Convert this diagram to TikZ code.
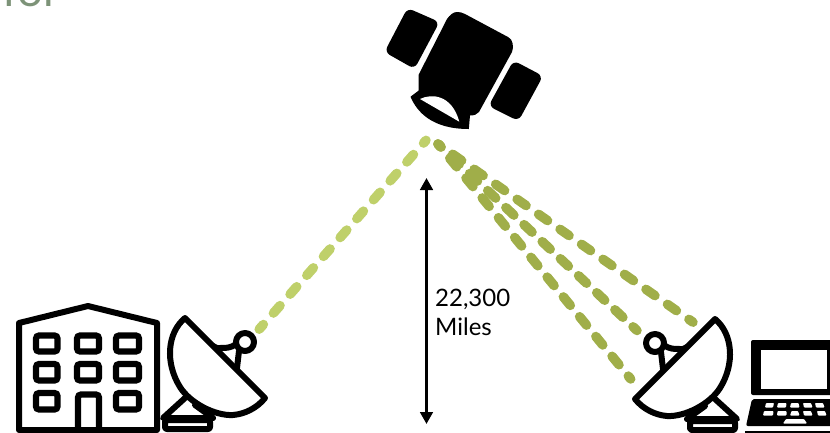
\documentclass[tikz,border=0pt]{standalone}
\usepackage{fontspec}
\setmainfont{Lato}
\usepackage{xcolor}
\usetikzlibrary{arrows.meta,positioning}
\definecolor{LinkLight}{HTML}{BFD06A}
\definecolor{LinkDark}{HTML}{A0AE49}
\definecolor{TitleGreen}{HTML}{7D9378}

\tikzset{
  dishicon/.pic={
    % ---- stand ----
    \draw[icon] (-40,40) -- (-62,60) -- (-12,60) -- (-30,47);
    \draw[icon, rounded corners=2pt] (-60,62) rectangle (-15,71);
    % ---- feed ----
    \draw[icon] (11,-14) .. controls (6,-10) and (2,-10) .. (-8,-10) -- (-12,-12);
    \draw[icon] (14,-7) -- (12,10);
    \draw[icon, fill=white] (20,-16) circle (9pt);
    % ---- bowl ----
    \draw[icon, fill=white] (-40,-40) .. controls (-58,-25) and (-60,5) .. (-45,29)
      .. controls (-35,45) and (-10,58) .. (8,57)
      .. controls (20,56) and (32,50) .. (40,40) -- cycle;
  }
}

\begin{document}
\begin{tikzpicture}[
    x=1pt, y=-1pt,
    icon/.style={line width=6pt, line join=round, line cap=round},
    winbox/.style={line width=6.2pt, rounded corners=3pt},
    keycap/.style={fill=white, draw=none, rounded corners=0.8pt},
    panel/.style={fill=black, rounded corners=6pt},
    linkbase/.style={line width=9.5pt, line cap=round},
    linklight/.style={linkbase, LinkLight, dash pattern=on 10pt off 15.2pt, dash phase=3.7pt},
    linkdark/.style={linkbase, LinkDark},
    height/.style={{Triangle[length=12pt,width=12.5pt]}-{Triangle[length=12pt,width=12.5pt]}, line width=3.5pt},
  ]
    \path[use as bounding box, clip] (0,0) rectangle (830,432);

    % ---- clipped heading ----
    \node[anchor=base west, inner sep=0pt, text=TitleGreen, font=\fontsize{46}{50}\selectfont] (heading) at (2,6) {for};

    % ---- anchor points ----
    \coordinate (satleft) at (426,140.3);
    \coordinate (satright) at (438,144);
    \coordinate (feedleft) at (259.2,329.2);
    \coordinate (feedtop) at (693,322.2);
    \coordinate (feedmid) at (637,330.5);
    \coordinate (feedlow) at (630.7,379);
    \coordinate (heighttop) at (426.5,178);
    \coordinate (heightbot) at (426.5,424);

    % ---- links ----
    \draw[linklight] (feedleft) -- (satleft);
    \draw[linkdark, dash pattern=on 11pt off 15.2pt, dash phase=8.3pt] (satright) -- (feedtop);
    \draw[linkdark, dash pattern=on 11pt off 13.9pt, dash phase=6.6pt] (satright) -- (feedmid);
    \draw[linkdark, dash pattern=on 11pt off 14.6pt, dash phase=7.1pt] (satright) -- (feedlow);

    % ---- satellite ----
    \fill[panel] (407.5,8) -- (439.5,22) -- (414.5,69) -- (384.5,52) -- cycle;
    \fill[panel] (513.5,60.5) -- (543,76) -- (518.5,121) -- (488.5,106) -- cycle;
    \fill[black] (457,12) .. controls (453,12) and (450,15) .. (447,19) -- (418.5,75) -- (418.5,90.7)
      -- (410.5,96.7) .. controls (417,112) and (432,129) .. (468.8,129)
      -- (470,115.5) .. controls (474,115.5) and (477,114.5) .. (479,112) -- (512,52)
      .. controls (514,47) and (513,39) .. (508,37) -- (465,14) .. controls (462,12.5) and (460,12) .. (457,12) -- cycle;
    \fill[white] (420,99) .. controls (432,93) and (452,95) .. (459.3,121.7) -- cycle;

    % ---- building ----
    \draw[icon] (19,323) -- (88,306) -- (157,323) -- (157,430) -- (19,430) -- cycle;
    \draw[winbox] (36,335.5) rectangle (57.5,351.5);
    \draw[winbox] (77,335.5) rectangle (99,351.5);
    \draw[winbox] (116,335.5) rectangle (139,351.5);
    \draw[winbox] (36,364) rectangle (57.5,380.5);
    \draw[winbox] (77,364) rectangle (99,380.5);
    \draw[winbox] (116,364) rectangle (139,380.5);
    \draw[winbox] (36,393) rectangle (57.5,409.5);
    \draw[winbox] (116,393) rectangle (139,409.5);
    \draw[winbox] (78,440) -- (78,394.5) -- (99,394.5) -- (99,440);

    % ---- dishes ----
    \pic (dishleft) at (225,358) {dishicon};
    \pic[xscale=-1] (dishright) at (675,359) {dishicon};

    % ---- laptop ----
    \fill[black, rounded corners=2pt] (751,340) rectangle (845,395);
    \fill[white] (760.7,350) rectangle (826.7,389.3);
    \fill[black, rounded corners=2pt] (752,399) -- (845,399) -- (845,426) -- (746,426) -- cycle;
    \fill[black] (745,430.6) rectangle (830,433);
    \fill[keycap] (766,403) -- (774,403) -- (773,407.5) -- (765,407.5) -- cycle;
    \fill[keycap] (778,403) -- (786.5,403) -- (786,407.5) -- (777,407.5) -- cycle;
    \fill[keycap] (791,403) -- (798.5,403) -- (799.5,407.5) -- (790,407.5) -- cycle;
    \fill[keycap] (803,403) -- (811,403) -- (812.5,407.5) -- (804,407.5) -- cycle;
    \fill[keycap] (815,403) -- (823,403) -- (824.5,407.5) -- (816,407.5) -- cycle;
    \fill[keycap] (764,411) -- (773.5,411) -- (773,415.5) -- (763,415.5) -- cycle;
    \fill[keycap] (777.5,411) -- (786.5,411) -- (786.5,415.5) -- (777,415.5) -- cycle;
    \fill[keycap] (791.5,411) -- (798,411) -- (799.5,415.5) -- (790,415.5) -- cycle;
    \fill[keycap] (803,411) -- (811,411) -- (812.5,415.5) -- (804,415.5) -- cycle;
    \fill[keycap] (817,411) -- (825,411) -- (826.5,415.5) -- (818,415.5) -- cycle;
    \fill[keycap] (786,419) -- (804,419) -- (807,423.5) -- (783,423.5) -- cycle;

    % ---- altitude ----
    \draw[height] (heighttop) -- (heightbot);
    \node[anchor=west, align=left, inner sep=0pt, font=\fontsize{24}{29}\selectfont] (altitude) at (435,312.5) {22,300\\Miles};
\end{tikzpicture}
\end{document}
